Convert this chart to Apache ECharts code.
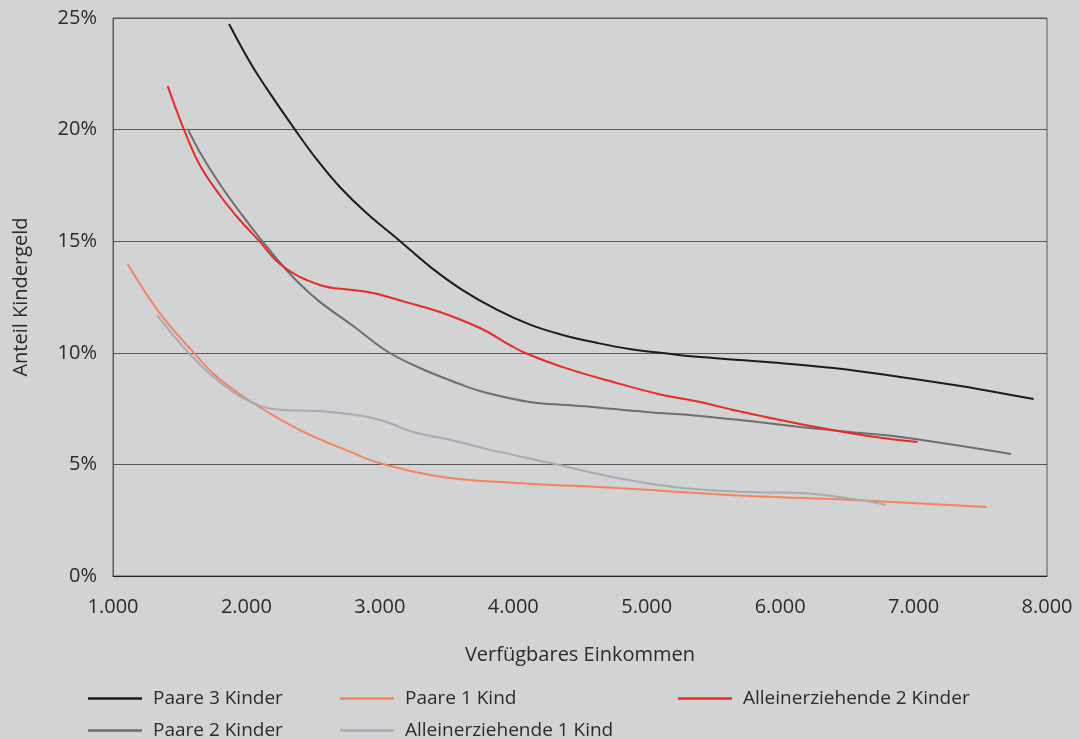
<!DOCTYPE html>
<html>
<head>
<meta charset="utf-8">
<script src="https://cdn.jsdelivr.net/npm/echarts@6/dist/echarts.min.js"></script>
<style>
html,body{margin:0;padding:0;background:#d1d3d4;}
#c{width:1080px;height:739px;}
</style>
</head>
<body>
<div id="c"></div>
<script>
// Data: [Verfügbares Einkommen, Anteil Kindergeld in %]
const seriesNames = ['Paare 3 Kinder','Paare 1 Kind','Alleinerziehende 2 Kinder','Paare 2 Kinder','Alleinerziehende 1 Kind'];
const paare3 = [[1870,24.73],[2030,22.98],[2150,21.86],[2360,20.03],[2530,18.64],[2700,17.43],[2900,16.26],[3150,15.01],[3380,13.84],[3620,12.81],[3880,11.92],[4130,11.25],[4370,10.80],[4630,10.44],[4870,10.17],[5120,9.99],[5400,9.81],[5900,9.59],[6400,9.32],[6900,8.92],[7400,8.47],[7650,8.20],[7900,7.93]];
const allein2 = [[1410,21.95],[1530,20.03],[1650,18.41],[1800,17.07],[1950,15.95],[2090,15.05],[2270,13.89],[2550,13.04],[2800,12.81],[2950,12.68],[3190,12.28],[3450,11.83],[3750,11.11],[4000,10.26],[4090,9.99],[4370,9.36],[4750,8.69],[5120,8.11],[5400,7.80],[5650,7.44],[6150,6.81],[6520,6.41],[6770,6.18],[7030,6.00]];
const paare2 = [[1560,20.03],[1650,19.00],[1800,17.56],[1950,16.31],[2100,15.14],[2250,14.05],[2400,13.08],[2550,12.28],[2800,11.20],[3050,10.08],[3300,9.32],[3600,8.60],[3750,8.29],[4000,7.93],[4180,7.75],[4500,7.62],[5000,7.35],[5400,7.17],[5770,6.94],[6150,6.68],[6520,6.45],[6900,6.23],[7730,5.47]];
const paare1 = [[1110,13.98],[1350,11.78],[1600,10.04],[1780,8.92],[2050,7.75],[2400,6.54],[2780,5.56],[3020,5.02],[3470,4.44],[4030,4.17],[4780,3.94],[5770,3.58],[6400,3.45],[7550,3.09]];
const allein1 = [[1330,11.69],[1560,10.04],[1780,8.78],[2050,7.75],[2270,7.44],[2530,7.39],[2870,7.17],[3050,6.90],[3250,6.45],[3500,6.14],[3830,5.65],[4280,5.06],[4780,4.39],[5270,3.94],[5770,3.76],[6150,3.72],[6600,3.40],[6790,3.18]];
const xTicks = [1000,2000,3000,4000,5000,6000,7000,8000];
const yTicks = [0,5,10,15,20,25];

const colors = {
  'Paare 3 Kinder':'#1c1c1c',
  'Paare 1 Kind':'#f5845e',
  'Alleinerziehende 2 Kinder':'#ec2a24',
  'Paare 2 Kinder':'#6d6e70',
  'Alleinerziehende 1 Kind':'#a9abae'
};
const dataMap = {
  'Paare 3 Kinder':paare3,
  'Paare 1 Kind':paare1,
  'Alleinerziehende 2 Kinder':allein2,
  'Paare 2 Kinder':paare2,
  'Alleinerziehende 1 Kind':allein1
};
const font = "'Open Sans', sans-serif";
const txt = '#2b2b2b';
const legendPos = [[88,689],[340,689],[678,689],[88,721],[340,721]];

const chart = echarts.init(document.getElementById('c'));
chart.setOption({
  backgroundColor:'#d1d3d4',
  animation:false,
  grid:{left:113,right:33,top:18,bottom:163,show:true,borderColor:'#58585a',borderWidth:1,outerBoundsMode:'none',containLabel:false},
  xAxis:{
    type:'value',min:xTicks[0],max:xTicks[xTicks.length-1],interval:1000,
    name:'Verfügbares Einkommen',nameLocation:'middle',nameGap:69,
    nameTextStyle:{color:txt,fontSize:20,fontFamily:font},
    axisLine:{lineStyle:{color:'#222',width:1}},
    axisTick:{show:false},
    splitLine:{show:false},
    axisLabel:{color:txt,fontSize:20,fontFamily:font,margin:21,
      formatter:v=>String(v/1000)+'.000'}
  },
  yAxis:{
    type:'value',min:yTicks[0],max:yTicks[yTicks.length-1],interval:5,
    name:'Anteil Kindergeld',nameLocation:'middle',nameGap:82,
    nameTextStyle:{color:txt,fontSize:20,fontFamily:font},
    axisLine:{show:true,lineStyle:{color:'#58585a'}},
    axisTick:{show:false},
    splitLine:{lineStyle:{color:'#58585a',width:1}},
    axisLabel:{color:txt,fontSize:20,fontFamily:font,margin:16,formatter:'{value}%'}
  },
  legend: seriesNames.map((n,i)=>({
    data:[n],left:legendPos[i][0],top:legendPos[i][1],
    icon:'rect',itemWidth:54,itemHeight:2.5,padding:0,
    textStyle:{color:txt,fontSize:19,fontFamily:font,padding:[0,0,0,6]}
  })),
  series: seriesNames.map(n=>({
    name:n,type:'line',data:dataMap[n],smooth:0.4,showSymbol:false,symbol:'none',
    lineStyle:{color:colors[n],width:2},itemStyle:{color:colors[n]},
    z: n==='Alleinerziehende 2 Kinder'?5:3
  }))
});
</script>
</body>
</html>
